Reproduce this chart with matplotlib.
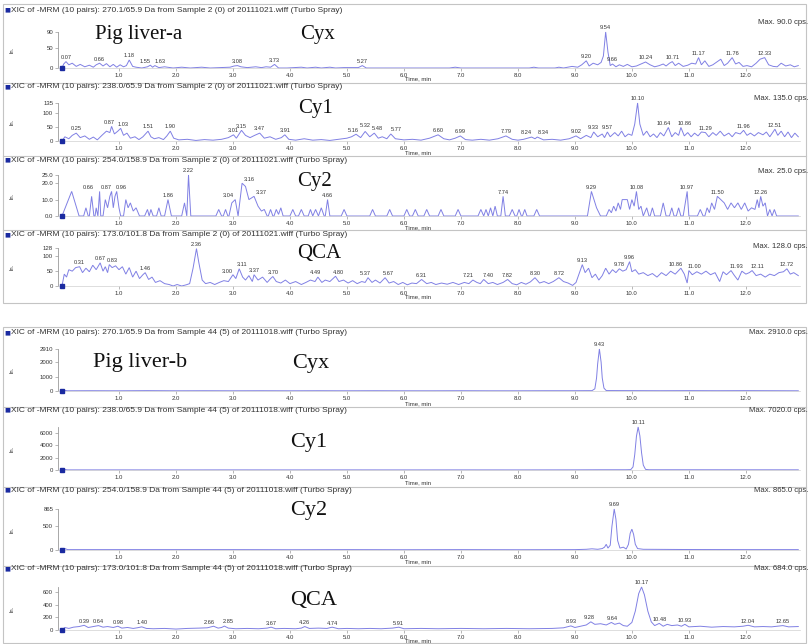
import matplotlib
matplotlib.use("Agg")
import matplotlib.pyplot as plt
import numpy as np
from matplotlib.lines import Line2D
from matplotlib.patches import Rectangle

# ---------------- data ----------------
x_ticks = [1.0, 2.0, 3.0, 4.0, 5.0, 6.0, 7.0, 8.0, 9.0, 10.0, 11.0, 12.0]
x_tick_labels = ["1.0", "2.0", "3.0", "4.0", "5.0", "6.0", "7.0", "8.0", "9.0", "10.0", "11.0", "12.0"]

cyx_a = [(0.00,0),(0.03,10),(0.07,16),(0.12,8),(0.18,12),(0.25,4),(0.32,9),(0.40,3),(0.48,7),(0.55,2),(0.60,8),(0.66,12),(0.72,5),(0.78,11),(0.84,3),(0.90,9),(0.96,2),(1.02,8),(1.08,3),(1.13,6),(1.18,20),(1.24,4),(1.30,2),(1.40,0),(1.50,3),(1.55,7),(1.59,2),(1.63,6),(1.70,1),(1.80,3),(1.95,0),(2.10,2),(2.25,0),(2.45,2),(2.60,0),(2.80,1),(2.95,2),(3.02,5),(3.08,6),(3.14,3),(3.25,1),(3.40,3),(3.50,1),(3.58,3),(3.66,2),(3.73,9),(3.80,0),(3.95,0),(4.20,2),(4.30,0),(4.45,2),(4.55,0),(4.70,2),(4.80,0),(4.95,1),(5.20,1),(5.27,6),(5.34,0),(5.50,0),(6.80,0),(6.90,2),(7.00,0),(8.20,0),(8.28,2),(8.36,0),(8.65,0),(8.72,2),(8.80,0),(8.95,4),(9.05,2),(9.12,8),(9.20,18),(9.25,5),(9.32,12),(9.40,8),(9.46,14),(9.50,30),(9.54,90),(9.58,40),(9.62,6),(9.66,10),(9.72,3),(9.78,8),(9.85,4),(9.92,9),(10.00,3),(10.08,5),(10.16,10),(10.24,15),(10.32,8),(10.40,3),(10.48,6),(10.55,10),(10.60,5),(10.66,12),(10.71,16),(10.76,6),(10.82,12),(10.90,4),(10.98,7),(11.05,12),(11.12,10),(11.17,26),(11.22,8),(11.28,18),(11.35,4),(11.42,8),(11.50,16),(11.56,22),(11.62,6),(11.68,12),(11.76,26),(11.82,10),(11.88,14),(11.95,4),(12.02,6),(12.10,3),(12.18,12),(12.25,22),(12.33,26),(12.40,8),(12.48,4),(12.55,3),(12.62,12),(12.70,5),(12.78,8),(12.85,3),(12.92,6)]
cyx_a_labels = ["0.07","0.66","1.18","1.55","1.63","3.08","3.73","5.27","9.20","9.54","9.66","10.24","10.71","11.17","11.76","12.33"]

cy1_a = [(0.00,0),(0.05,15),(0.12,8),(0.18,20),(0.25,28),(0.32,12),(0.40,18),(0.48,6),(0.55,14),(0.62,4),(0.70,20),(0.78,35),(0.84,30),(0.87,52),(0.92,25),(0.98,35),(1.03,45),(1.08,20),(1.14,28),(1.20,10),(1.28,15),(1.35,5),(1.42,15),(1.51,35),(1.56,15),(1.62,8),(1.70,12),(1.78,5),(1.84,18),(1.90,35),(1.96,10),(2.05,4),(2.20,6),(2.35,2),(2.50,5),(2.65,3),(2.80,6),(2.92,12),(3.01,22),(3.06,10),(3.15,38),(3.22,20),(3.30,12),(3.38,20),(3.47,28),(3.55,10),(3.65,15),(3.75,6),(3.85,12),(3.91,22),(3.98,6),(4.10,3),(4.25,8),(4.40,3),(4.55,5),(4.70,2),(4.85,6),(5.00,10),(5.08,15),(5.16,24),(5.24,12),(5.32,34),(5.40,15),(5.48,28),(5.55,10),(5.62,15),(5.70,8),(5.77,25),(5.85,8),(6.00,4),(6.15,6),(6.30,3),(6.45,10),(6.60,22),(6.70,8),(6.80,4),(6.90,10),(6.99,18),(7.08,5),(7.20,3),(7.35,6),(7.50,3),(7.65,8),(7.79,18),(7.90,6),(8.00,3),(8.10,6),(8.24,14),(8.30,8),(8.34,14),(8.45,4),(8.60,6),(8.75,3),(8.90,8),(9.02,18),(9.10,8),(9.20,20),(9.28,12),(9.33,32),(9.40,15),(9.48,25),(9.52,12),(9.57,32),(9.62,15),(9.70,30),(9.76,18),(9.82,35),(9.88,15),(9.94,25),(10.00,20),(10.05,60),(10.10,135),(10.14,60),(10.20,20),(10.26,35),(10.32,15),(10.38,25),(10.44,12),(10.50,30),(10.56,18),(10.64,48),(10.70,15),(10.76,30),(10.82,20),(10.86,48),(10.92,18),(10.98,30),(11.04,15),(11.10,28),(11.16,18),(11.22,32),(11.29,30),(11.35,15),(11.42,30),(11.48,20),(11.55,35),(11.62,18),(11.70,28),(11.76,15),(11.82,30),(11.90,25),(11.96,38),(12.02,20),(12.08,28),(12.15,18),(12.22,30),(12.30,22),(12.36,32),(12.42,15),(12.51,42),(12.56,20),(12.62,35),(12.68,15),(12.74,32),(12.80,12),(12.86,28),(12.92,15)]
cy1_a_labels = ["0.25","0.87","1.03","1.51","1.90","3.01","3.15","3.47","3.91","5.16","5.32","5.48","5.77","6.60","6.99","7.79","8.24","8.34","9.02","9.33","9.57","10.10","10.64","10.86","11.29","11.96","12.51"]

cy2_a = [(0.00,0),(0.17,15),(0.30,0),(0.38,0),(0.42,5),(0.46,0),(0.48,0),(0.52,12),(0.56,0),(0.58,0),(0.60,5),(0.63,0),(0.66,15),(0.68,0),(0.72,0),(0.76,10),(0.80,5),(0.84,12),(0.87,15),(0.90,5),(0.93,12),(0.96,15),(1.00,5),(1.03,0),(1.08,0),(1.12,10),(1.16,5),(1.20,8),(1.25,3),(1.30,5),(1.36,0),(1.45,0),(1.50,4),(1.53,0),(1.56,4),(1.60,0),(1.66,0),(1.70,5),(1.74,0),(1.80,0),(1.86,10),(1.92,0),(2.10,0),(2.15,8),(2.19,0),(2.22,25),(2.26,0),(2.70,0),(2.75,4),(2.80,0),(2.83,0),(2.87,4),(2.91,0),(2.93,0),(2.98,8),(3.04,10),(3.09,0),(3.16,20),(3.22,18),(3.28,10),(3.37,12),(3.44,6),(3.50,3),(3.55,4),(3.60,0),(3.62,0),(3.66,4),(3.70,0),(3.72,0),(3.76,4),(3.80,1),(3.84,5),(3.88,0),(4.00,0),(4.05,4),(4.10,0),(4.15,0),(4.20,4),(4.25,0),(4.32,0),(4.36,4),(4.40,0),(4.45,4),(4.50,0),(4.55,5),(4.60,0),(4.62,0),(4.66,10),(4.70,0),(4.90,0),(4.95,4),(5.00,0),(5.40,0),(5.45,4),(5.50,0),(5.70,0),(5.75,4),(5.80,0),(6.00,0),(6.05,4),(6.10,0),(6.15,0),(6.20,4),(6.25,0),(6.35,0),(6.40,4),(6.45,0),(6.60,0),(6.65,4),(6.70,0),(6.90,0),(6.95,4),(7.00,0),(7.30,0),(7.35,4),(7.40,0),(7.44,4),(7.48,0),(7.52,5),(7.56,0),(7.60,6),(7.64,0),(7.70,0),(7.74,12),(7.78,0),(7.85,0),(7.90,4),(7.95,0),(7.98,0),(8.02,4),(8.06,0),(8.08,0),(8.12,4),(8.16,0),(8.28,0),(8.33,4),(8.38,0),(9.22,0),(9.29,15),(9.38,5),(9.45,0),(9.55,0),(9.60,4),(9.64,2),(9.68,6),(9.72,3),(9.76,8),(9.80,4),(9.83,10),(9.92,10),(9.96,4),(10.00,10),(10.04,6),(10.08,15),(10.12,4),(10.16,6),(10.20,0),(10.26,5),(10.30,0),(10.32,0),(10.36,5),(10.40,0),(10.50,0),(10.55,8),(10.60,0),(10.66,0),(10.70,5),(10.74,0),(10.78,0),(10.82,5),(10.86,0),(10.90,0),(10.97,15),(11.00,0),(11.15,0),(11.20,4),(11.25,0),(11.28,0),(11.32,5),(11.36,2),(11.40,8),(11.45,4),(11.50,12),(11.56,10),(11.62,8),(11.68,4),(11.74,8),(11.80,5),(11.86,8),(11.92,4),(11.98,8),(12.04,3),(12.10,5),(12.16,4),(12.20,10),(12.23,5),(12.26,12),(12.30,6),(12.34,8),(12.38,0),(12.42,4),(12.46,0),(12.50,4),(12.54,0),(12.92,0)]
cy2_a_labels = ["0.66","0.87","0.96","1.86","2.22","3.04","3.16","3.37","4.66","7.74","9.29","10.08","10.97","11.50","12.26"]

qca_a = [(0.00,0),(0.04,40),(0.08,30),(0.12,55),(0.18,50),(0.24,62),(0.31,65),(0.36,45),(0.42,60),(0.48,48),(0.54,70),(0.60,55),(0.67,78),(0.72,50),(0.76,65),(0.80,45),(0.83,72),(0.88,62),(0.94,68),(1.00,55),(1.06,65),(1.12,40),(1.18,62),(1.24,30),(1.30,50),(1.36,25),(1.42,38),(1.46,45),(1.52,22),(1.58,30),(1.64,12),(1.72,18),(1.80,8),(1.88,5),(1.95,0),(2.02,5),(2.10,0),(2.18,4),(2.24,8),(2.30,60),(2.36,126),(2.40,80),(2.46,20),(2.52,8),(2.60,12),(2.68,5),(2.76,12),(2.84,18),(2.92,15),(3.00,38),(3.05,25),(3.11,58),(3.17,30),(3.22,20),(3.28,35),(3.34,15),(3.37,38),(3.44,20),(3.52,30),(3.60,12),(3.66,25),(3.70,32),(3.76,15),(3.84,10),(3.92,20),(4.00,8),(4.10,15),(4.20,5),(4.28,12),(4.36,20),(4.44,15),(4.49,30),(4.56,12),(4.62,20),(4.70,15),(4.80,33),(4.86,15),(4.94,20),(5.02,10),(5.10,18),(5.18,8),(5.26,15),(5.32,12),(5.37,28),(5.44,12),(5.50,20),(5.58,10),(5.67,28),(5.74,10),(5.82,15),(5.90,5),(5.98,12),(6.06,4),(6.14,10),(6.22,8),(6.31,22),(6.40,8),(6.48,12),(6.56,5),(6.66,10),(6.76,6),(6.86,12),(6.96,5),(7.06,12),(7.14,8),(7.21,20),(7.28,12),(7.34,8),(7.40,22),(7.48,8),(7.56,12),(7.64,5),(7.74,12),(7.82,22),(7.90,8),(7.98,4),(8.06,12),(8.14,6),(8.22,14),(8.30,28),(8.38,10),(8.46,15),(8.54,8),(8.62,15),(8.72,28),(8.80,15),(8.88,10),(8.96,2),(9.02,12),(9.08,45),(9.13,72),(9.18,45),(9.24,60),(9.30,28),(9.36,40),(9.42,20),(9.48,35),(9.54,60),(9.60,40),(9.66,55),(9.72,45),(9.78,58),(9.84,50),(9.90,55),(9.96,82),(10.00,48),(10.06,55),(10.12,40),(10.20,45),(10.28,35),(10.36,42),(10.44,30),(10.52,45),(10.60,35),(10.68,50),(10.76,40),(10.82,52),(10.86,60),(10.92,40),(10.97,10),(11.00,52),(11.06,38),(11.14,48),(11.22,40),(11.30,50),(11.38,38),(11.46,45),(11.54,15),(11.60,48),(11.66,38),(11.74,52),(11.80,35),(11.86,20),(11.93,50),(12.00,40),(12.06,45),(12.11,52),(12.18,35),(12.26,40),(12.34,30),(12.42,40),(12.50,35),(12.58,45),(12.66,48),(12.72,58),(12.78,40),(12.84,45),(12.92,35)]
qca_a_labels = ["0.31","0.67","0.83","1.46","2.36","3.00","3.11","3.37","3.70","4.49","4.80","5.37","5.67","6.31","7.21","7.40","7.82","8.30","8.72","9.13","9.78","9.96","10.86","11.00","11.93","12.11","12.72"]

cyx_b = [(0.00,0),(0.05,40),(0.10,15),(0.5,20),(1.0,15),(1.5,25),(2.0,15),(2.5,20),(3.0,15),(3.5,20),(4.0,15),(4.5,20),(5.0,15),(5.5,20),(6.0,15),(6.5,15),(7.0,20),(7.5,15),(8.0,15),(8.5,20),(9.0,20),(9.30,25),(9.35,150),(9.38,900),(9.40,1900),(9.43,2910),(9.46,2000),(9.48,900),(9.51,200),(9.55,30),(10.0,25),(10.5,20),(11.0,25),(11.5,20),(12.0,25),(12.5,20),(12.92,15)]
cyx_b_labels = ["9.43"]

cy1_b = [(0.00,0),(0.05,80),(0.10,20),(1.0,20),(2.0,15),(3.0,20),(4.0,15),(5.0,20),(6.0,15),(7.0,20),(8.0,15),(9.0,25),(9.5,40),(9.9,40),(9.98,60),(10.02,500),(10.05,2500),(10.08,5500),(10.11,7020),(10.14,5600),(10.17,2800),(10.20,800),(10.24,100),(10.30,40),(11.0,40),(12.0,35),(12.92,30)]
cy1_b_labels = ["10.11"]

cy2_b = [(0.00,0),(0.05,30),(0.10,8),(1.0,8),(2.0,8),(3.0,8),(4.0,6),(5.0,8),(6.0,6),(7.0,8),(8.0,6),(9.0,8),(9.2,15),(9.3,25),(9.4,15),(9.48,30),(9.52,60),(9.55,120),(9.58,40),(9.62,100),(9.65,500),(9.69,865),(9.72,650),(9.75,200),(9.79,40),(9.85,60),(9.90,20),(9.94,120),(9.97,350),(10.00,440),(10.03,330),(10.06,120),(10.10,30),(10.2,15),(11.0,10),(12.0,8),(12.92,8)]
cy2_b_labels = ["9.69"]

qca_b = [(0.00,0),(0.05,40),(0.12,25),(0.2,45),(0.3,55),(0.39,75),(0.46,40),(0.55,55),(0.64,70),(0.72,45),(0.8,55),(0.9,40),(0.98,60),(1.05,30),(1.15,40),(1.25,25),(1.32,35),(1.40,50),(1.48,25),(1.6,20),(1.8,25),(2.0,15),(2.2,25),(2.4,30),(2.55,35),(2.66,60),(2.74,30),(2.8,40),(2.85,62),(2.92,30),(3.05,20),(3.25,25),(3.45,20),(3.6,30),(3.67,45),(3.75,20),(3.9,25),(4.1,20),(4.2,30),(4.26,55),(4.34,25),(4.5,30),(4.65,25),(4.74,45),(4.85,20),(5.0,25),(5.2,20),(5.4,25),(5.6,20),(5.8,30),(5.91,45),(6.0,20),(6.3,25),(6.6,20),(7.0,25),(7.4,20),(7.8,25),(8.2,20),(8.6,25),(8.8,35),(8.93,65),(9.0,40),(9.1,60),(9.2,80),(9.28,130),(9.35,90),(9.45,100),(9.55,80),(9.64,120),(9.70,90),(9.78,110),(9.85,70),(9.92,60),(10.0,120),(10.06,300),(10.12,580),(10.17,684),(10.22,560),(10.28,300),(10.34,130),(10.40,70),(10.48,105),(10.55,60),(10.62,90),(10.70,70),(10.8,80),(10.87,60),(10.93,90),(11.0,50),(11.2,60),(11.4,45),(11.6,55),(11.8,50),(11.95,60),(12.04,75),(12.15,50),(12.3,55),(12.45,50),(12.55,60),(12.65,70),(12.75,50),(12.92,55)]
qca_b_labels = ["0.39","0.64","0.98","1.40","2.66","2.85","3.67","4.26","4.74","5.91","8.93","9.28","9.64","10.17","10.48","10.93","12.04","12.65"]

max_values = [90.0, 135.0, 25.0, 128.0, 2910.0, 7020.0, 865.0, 684.0]
y_ticks = [[0, 50, 90], [0, 50, 100, 135], [0, 10, 20, 25], [0, 50, 100, 128],
           [0, 1000, 2000, 2910], [0, 2000, 4000, 6000], [0, 500, 865], [0, 200, 400, 600]]
y_tick_labels = [["0", "50", "90"], ["0", "50", "100", "135"], ["0.0", "10.0", "20.0", "25.0"],
                 ["0", "50", "100", "128"], ["0", "1000", "2000", "2910"],
                 ["0", "2000", "4000", "6000"], ["0", "500", "865"], ["0", "200", "400", "600"]]
transitions = ["270.1/65.9", "238.0/65.9", "254.0/158.9", "173.0/101.8"] * 2
sample_text = ["Sample 2 (0) of 20111021.wiff"] * 4 + ["Sample 44 (5) of 20111018.wiff"] * 4
compound_names = ["Cyx", "Cy1", "Cy2", "QCA", "Cyx", "Cy1", "Cy2", "QCA"]
group_names = ["Pig liver-a", "Pig liver-b"]

traces = [cyx_a, cy1_a, cy2_a, qca_a, cyx_b, cy1_b, cy2_b, qca_b]
peak_labels = [cyx_a_labels, cy1_a_labels, cy2_a_labels, qca_a_labels,
               cyx_b_labels, cy1_b_labels, cy2_b_labels, qca_b_labels]

# label nudges (points) to keep close labels readable
label_nudge = {
    (0, "1.55"): (-3.5, 0), (0, "1.63"): (3.5, 0),
    (1, "0.87"): (-2, 0), (1, "1.03"): (2, 0),
    (1, "5.16"): (-2, 0), (1, "5.32"): (0, 1), (1, "5.48"): (2.5, 0), (1, "5.77"): (4, 0),
    (1, "8.24"): (-4, 0), (1, "8.34"): (4, 0), (1, "10.64"): (-3, 0), (1, "10.86"): (3, 0),
    (2, "0.66"): (-8, 0), (2, "0.87"): (-3.5, 0), (2, "0.96"): (3, 0),
    (2, "3.04"): (-5, 0), (2, "3.16"): (5, 0), (2, "3.37"): (5, 0),
    (3, "3.00"): (-4, -1), (3, "3.11"): (2, 0), (3, "7.21"): (-3, 0), (3, "7.40"): (3, 0),
    (3, "0.83"): (2, 0), (3, "4.49"): (-2, 0), (3, "4.80"): (2, 0),
    (3, "5.37"): (-2, 0), (3, "5.67"): (2, 0),
    (3, "10.86"): (-4, 0), (3, "11.00"): (4, 0), (3, "11.93"): (-4, 0), (3, "12.11"): (4, 0),
    (7, "2.66"): (-3, 0), (7, "2.85"): (3, 0), (7, "9.28"): (-1, 0), (7, "9.64"): (1, 0),
}

# ---------------- layout (pixels) ----------------
W, H = 809, 644
fig = plt.figure(figsize=(W / 100, H / 100), dpi=100)
fig.patch.set_facecolor("white")

def fx(x): return x / W
def fy(y): return 1 - y / H

ax_top = [32, 103, 175, 248, 349, 427, 509, 587]
ax_bot = [68, 141, 216, 286, 391, 470, 550, 630]
header_y = [10, 87, 160, 235, 333, 410, 490, 569]
max_y = [22, 98, 172, 247, 333, 410, 490, 569]
time_y = [79, 153, 228, 297, 404, 483, 562, 641]
name_pos = [(300, 39), (298, 113), (297, 186), (297, 258),
            (292, 368), (290, 447), (290, 515), (290, 605)]
AX_L, AX_R = 58, 800
XMIN, XMAX = -0.07, 12.95

LINE_C = "#8080e4"
TXT_C = "#333333"
AXIS_C = "#9a9a9a"
MARK_C = "#1a2aa0"
SANS = "Liberation Sans"
SERIF = "Liberation Serif"
LAB_FS = 4.1

for (t, b) in [(4, 303), (327, 643)]:
    fig.add_artist(Rectangle((fx(3), fy(b)), fx(803), (b - t) / H, transform=fig.transFigure,
                             fill=False, ec="#c4c4c4", lw=0.8))
for s in [83, 156, 230, 407, 487, 566]:
    fig.add_artist(Line2D([fx(3), fx(806)], [fy(s), fy(s)], transform=fig.transFigure,
                          color="#c4c4c4", lw=0.8))

for i, tr in enumerate(traces):
    t = np.array([p[0] for p in tr])
    v = np.array([p[1] for p in tr])
    ymax = max_values[i]
    ax = fig.add_axes([fx(AX_L), fy(ax_bot[i]), fx(AX_R - AX_L), (ax_bot[i] - ax_top[i]) / H])
    ax.set_facecolor("none")
    ax.plot(t, v, color=LINE_C, lw=0.7, solid_joinstyle="miter", clip_on=False)
    ax.plot([0], [0], marker="s", ms=2.2, color=MARK_C, clip_on=False, zorder=5)
    ax.set_xlim(XMIN, XMAX)
    ax.set_ylim(0, ymax)
    for sp in ["top", "right"]:
        ax.spines[sp].set_visible(False)
    ax.spines["left"].set_color(AXIS_C)
    ax.spines["left"].set_linewidth(0.6)
    ax.spines["left"].set_bounds(0, ymax)
    ax.spines["bottom"].set_color("#d0d0d0")
    ax.spines["bottom"].set_linewidth(0.5)
    ax.set_xticks(x_ticks)
    ax.set_xticklabels(x_tick_labels)
    ax.set_yticks(y_ticks[i])
    ax.set_yticklabels(y_tick_labels[i])
    ax.tick_params(axis="both", labelsize=4.3, colors=AXIS_C, labelcolor=TXT_C,
                   length=2, width=0.5, pad=1.5)
    for lab in ax.get_xticklabels() + ax.get_yticklabels():
        lab.set_family(SANS)
    for lab in peak_labels[i]:
        tp = float(lab)
        vp = np.interp(tp, t, v)
        dx, dy = label_nudge.get((i, lab), (0, 0))
        ax.annotate(lab, (tp, vp), xytext=(dx, 1.2 + dy), textcoords="offset points",
                    ha="center", va="bottom", fontsize=LAB_FS, color=TXT_C,
                    family=SANS, annotation_clip=False)
    fig.text(fx(4), fy(header_y[i]), "\u25a0", fontsize=4.5, color=MARK_C, va="center", ha="left")
    fig.text(fx(11), fy(header_y[i]),
             "XIC of -MRM (10 pairs): %s Da from %s (Turbo Spray)" % (transitions[i], sample_text[i]),
             fontsize=6.0, color=TXT_C, va="center", ha="left", family=SANS)
    fig.text(fx(808), fy(max_y[i]), "Max. %.1f cps." % ymax, fontsize=5.6, color=TXT_C,
             va="center", ha="right", family=SANS)
    fig.text(fx(418), fy(time_y[i]), "Time, min", fontsize=4.3, color=TXT_C,
             va="center", ha="center", family=SANS)
    fig.text(fx(12), fy((ax_top[i] + ax_bot[i]) / 2), "In.", fontsize=4, color=TXT_C,
             rotation=90, va="center", ha="center", family=SANS)
    nx, ny = name_pos[i]
    fig.text(fx(nx), fy(ny), compound_names[i], fontsize=15 if i < 4 else 16,
             family=SERIF, color="#111111", va="baseline", ha="left")

fig.text(fx(95), fy(39), group_names[0], fontsize=15, family=SERIF, color="#111111",
         va="baseline", ha="left")
fig.text(fx(93), fy(367), group_names[1], fontsize=16, family=SERIF, color="#111111",
         va="baseline", ha="left")

fig.savefig("out.png", dpi=100)
